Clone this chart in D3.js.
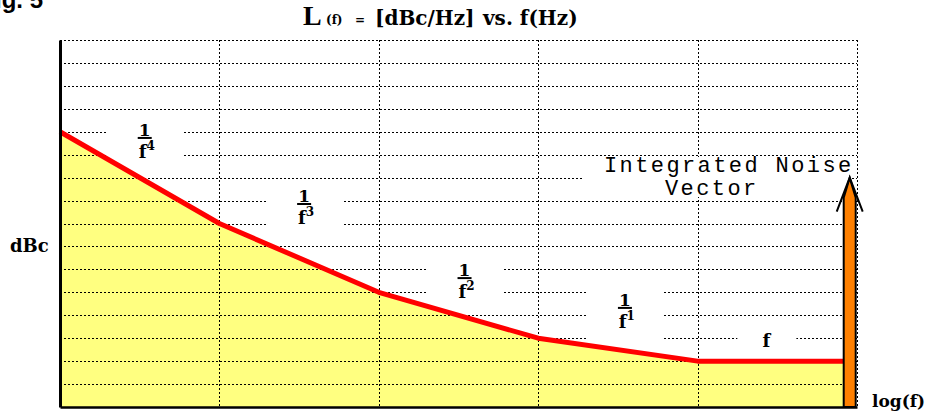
<!DOCTYPE html>
<html>
<head>
<meta charset="utf-8">
<script src="https://cdn.jsdelivr.net/npm/d3@7/dist/d3.min.js"></script>
<style>
  html, body { margin: 0; padding: 0; background: #fff; }
  svg { display: block; }
</style>
</head>
<body>
<svg id="chart" width="930" height="416"></svg>
<script>
// Phase-noise profile L(f): one segment per decade, slope 1/f^4 down to flat
const decades = [1, 10, 100, 1000, 10000, 100000];   // vertical grid (log f)
const levels = d3.range(0, 17);                        // horizontal grid (dBc steps)
const freqs = [1, 10, 100, 1000, 10000, 90000];       // curve breakpoints
const noise = [12, 8, 5, 3, 2, 2];                     // dBc at each breakpoint
const slopeNums = ["1", "1", "1", "1", ""];
const slopeSups = ["4", "3", "2", "1", ""];
const slopeFreqs = [3.4, 34, 345, 3500, 27000];        // where each slope label sits
const slopeLevels = [11.73, 8.85, 5.62, 4.32, 2.62];   // fraction-bar level of each label
const arrowFreq = 90000;                               // integrated noise vector
const arrowTop = 10;

const svg = d3.select("#chart");
const x = d3.scaleLog().domain([1, 100000]).range([60, 857]);
const y = d3.scaleLinear().domain([0, 16]).range([407, 40]);

const pts = freqs.map((f, i) => ({ f, v: noise[i] }));

// clip region: everything above the noise curve
const defs = svg.append("defs");
defs.append("clipPath").attr("id", "above")
  .append("path")
  .attr("d", d3.area().x(d => x(d.f)).y0(y(16)).y1(d => y(d.v))(pts));

// area under the curve
svg.append("path")
  .attr("d", d3.area().x(d => x(d.f)).y0(y(0)).y1(d => y(d.v))(pts))
  .attr("fill", "#ffff80");

// dotted grid
const grid = svg.append("g").attr("stroke", "#000").attr("stroke-width", 1)
  .attr("stroke-dasharray", "2,2").attr("shape-rendering", "crispEdges");
grid.selectAll("line.h").data(levels.slice(1)).join("line")
  .attr("x1", x(1)).attr("x2", x(100000))
  .attr("y1", d => Math.round(y(d)) + 0.5).attr("y2", d => Math.round(y(d)) + 0.5);
grid.selectAll("line.v").data(decades.slice(1)).join("line")
  .attr("x1", d => Math.round(x(d)) + 0.5).attr("x2", d => Math.round(x(d)) + 0.5)
  .attr("y1", y(16)).attr("y2", y(0));

// white label backgrounds (only above the curve)
const labels = slopeNums.map((n, i) => ({ n, s: slopeSups[i], f: slopeFreqs[i], v: slopeLevels[i] }));
const bg = svg.append("g").attr("clip-path", "url(#above)").attr("fill", "#fff");
labels.forEach(d => {
  const cx = x(d.f), u = y(d.v);
  if (d.n) bg.append("rect").attr("x", cx - 38).attr("y", u - 21).attr("width", 76).attr("height", 53);
  else bg.append("rect").attr("x", cx - 29).attr("y", u - 22).attr("width", 59).attr("height", 30);
});
bg.append("rect").attr("x", 582).attr("y", 157).attr("width", 270).attr("height", 40);

// noise curve
svg.append("path")
  .attr("d", d3.line().x(d => x(d.f)).y(d => y(d.v))(pts))
  .attr("fill", "none").attr("stroke", "#ff0000").attr("stroke-width", 5)
  .attr("stroke-linejoin", "round");

// axes
const axisX = d3.axisBottom(x).tickValues([]).tickSizeOuter(0);
svg.append("g").attr("transform", `translate(0,${y(0)})`).call(axisX)
  .select(".domain").attr("stroke", "#000").attr("stroke-width", 2.5);
const axisY = d3.axisLeft(y).tickValues([]).tickSizeOuter(0);
svg.append("g").attr("transform", `translate(${x(1)},0)`).call(axisY)
  .select(".domain").attr("stroke", "#000").attr("stroke-width", 3);

// slope labels
const serif = "'DejaVu Serif', serif";
labels.forEach(d => {
  const cx = x(d.f), u = y(d.v);
  const g = svg.append("g").attr("font-family", serif).attr("font-weight", "bold").attr("fill", "#000");
  if (d.n) {
    g.append("text").attr("x", cx).attr("y", u - 2).attr("text-anchor", "middle")
      .attr("font-size", 17).text(d.n);
    g.append("line").attr("x1", cx - 7).attr("x2", cx + 7).attr("y1", u).attr("y2", u)
      .attr("stroke", "#000").attr("stroke-width", 2);
    const t = g.append("text").attr("x", cx + 2).attr("y", u + 20).attr("text-anchor", "middle")
      .attr("font-size", 18);
    t.append("tspan").text("f");
    t.append("tspan").attr("font-size", 12).attr("dy", -8).text(d.s);
  } else {
    g.append("text").attr("x", cx).attr("y", u).attr("text-anchor", "middle")
      .attr("font-size", 18).text("f");
  }
});

// integrated noise vector arrow
const ax = x(arrowFreq), ay = y(arrowTop), ab = y(0);
svg.append("path")
  .attr("d", `M${ax - 6},${ab} V${ay + 20} L${ax},${ay} L${ax + 6},${ay + 20} V${ab} Z`)
  .attr("fill", "#ff8000").attr("stroke", "#000").attr("stroke-width", 2);
svg.append("path")
  .attr("d", `M${ax - 13},${ay + 34} L${ax},${ay} L${ax + 13},${ay + 34}`)
  .attr("fill", "none").attr("stroke", "#000").attr("stroke-width", 2);

const mono = svg.append("g").attr("font-family", "'Liberation Mono', monospace")
  .attr("font-size", 22).attr("fill", "#000").attr("letter-spacing", 2.4);
mono.append("text").attr("x", 604).attr("y", 172).text("Integrated Noise");
mono.append("text").attr("x", 665).attr("y", 195).text("Vector");

// title and axis captions
const tb = svg.append("g").attr("font-weight", "bold").attr("fill", "#000");
tb.append("text").attr("x", 303).attr("y", 25).attr("font-family", "'Liberation Serif', serif")
  .attr("font-size", 28).text("L");
tb.append("text").attr("x", 326).attr("y", 24).attr("font-family", serif)
  .attr("font-size", 12).text("(f)");
tb.append("text").attr("x", 355).attr("y", 24).attr("font-family", serif)
  .attr("font-size", 12).text("=");
tb.append("text").attr("x", 375).attr("y", 25).attr("font-family", serif)
  .attr("font-size", 20).text("[dBc/Hz]");
tb.append("text").attr("x", 483).attr("y", 25).attr("font-family", serif)
  .attr("font-size", 20).text("vs. f(Hz)");
tb.append("text").attr("x", 10).attr("y", 252).attr("font-family", serif)
  .attr("font-size", 18).text("dBc");
tb.append("text").attr("x", 872).attr("y", 407).attr("font-family", serif)
  .attr("font-size", 17).text("log(f)");
tb.append("text").attr("x", 43).attr("y", 8).attr("text-anchor", "end")
  .attr("font-family", "'Liberation Sans', Arial, sans-serif").attr("font-size", 24).text("Fig. 5");
</script>
</body>
</html>
